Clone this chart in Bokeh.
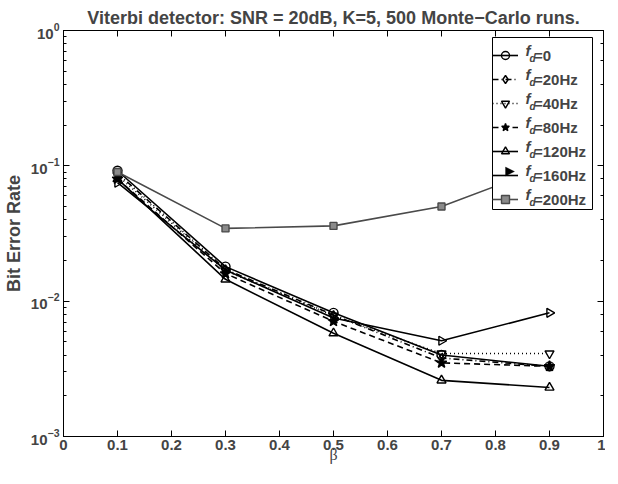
from bokeh.plotting import figure
from bokeh.models import (LogAxis, LinearAxis, Legend, LegendItem, Label, FixedTicker,
                          LogTicker, CustomJSTickFormatter, PolyAnnotation, BoxAnnotation)
from bokeh.embed import file_html
from bokeh.resources import INLINE

# ---- data ----
beta = [0.1, 0.3, 0.5, 0.7, 0.9]
ber_0 = [0.092, 0.018, 0.0082, 0.0040, 0.0033]
ber_20 = [0.088, 0.0172, 0.0079, 0.0038, 0.0033]
ber_40 = [0.085, 0.0168, 0.0078, 0.0041, 0.0041]
ber_80 = [0.080, 0.0160, 0.0071, 0.0035, 0.0033]
ber_120 = [0.080, 0.0145, 0.0058, 0.0026, 0.0023]
ber_160 = [0.075, 0.0170, 0.0075, 0.0051, 0.0082]
ber_200 = [0.090, 0.0345, 0.036, 0.050, 0.10]
legend_values = ["=0", "=20Hz", "=40Hz", "=80Hz", "=120Hz", "=160Hz", "=200Hz"]
x_ticks = [0, 0.1, 0.2, 0.3, 0.4, 0.5, 0.6, 0.7, 0.8, 0.9, 1]
x_tick_labels = ["0", "0.1", "0.2", "0.3", "0.4", "0.5", "0.6", "0.7", "0.8", "0.9", "1"]

FONT = "Liberation Sans"
FW, FH = 540, 406          # frame size in px
LEG_W, LEG_H = 100, 172    # legend box size
LEG_L = FW - 11 - LEG_W    # legend left (frame px)
LEG_B = FH - 7 - LEG_H     # legend bottom (frame px)
PAD, GW, STANDOFF = 4, 26, 16


def fx(px):  # frame px -> data x
    return px / FW


def fy(py):  # frame px (from bottom) -> data y (log)
    return 10 ** (-3 + 3 * py / FH)


p = figure(frame_width=FW, frame_height=FH, x_range=(0, 1), y_range=(1e-3, 1),
           y_axis_type="log", output_backend="svg", toolbar_location=None,
           min_border_left=56, min_border_right=2, min_border_top=30, min_border_bottom=20,
           title="Viterbi detector: SNR = 20dB, K=5, 500 Monte\u2212Carlo runs.")
p.title.text_font = FONT
p.title.text_font_style = "bold"
p.title.text_font_size = "18px"
p.title.align = "center"
p.title.standoff = 5
p.title.offset = 8
p.xgrid.visible = False
p.ygrid.visible = False
p.outline_line_color = "black"
p.outline_line_width = 1
p.background_fill_color = "white"
p.border_fill_color = "white"

xa = p.xaxis[0]
xa.ticker = FixedTicker(ticks=x_ticks)
xa.major_label_overrides = {t: l for t, l in zip(x_ticks, x_tick_labels)}
xa.axis_label = "\u03b2"
xa.axis_label_text_font = "Liberation Serif"
xa.axis_label_text_font_style = "normal"
xa.axis_label_text_font_size = "16px"
xa.axis_label_standoff = -7
ya = p.yaxis[0]
ya.axis_label = "Bit Error Rate"
ya.axis_label_text_font = FONT
ya.axis_label_text_font_style = "bold"
ya.axis_label_text_font_size = "18px"
ya.axis_label_standoff = 4

for ax in (xa, ya):
    ax.major_label_text_font = FONT
    ax.major_label_text_font_style = "bold"
    ax.major_label_text_font_size = "15px"
    ax.major_tick_in = 6
    ax.major_tick_out = 0
    ax.minor_tick_in = 3
    ax.minor_tick_out = 0
    ax.axis_line_color = "black"
xa.major_label_standoff = 3
ya.major_label_standoff = 4
xa.minor_tick_line_color = None

top = LinearAxis(ticker=FixedTicker(ticks=x_ticks), formatter=CustomJSTickFormatter(code="return ''"),
                 major_tick_in=6, major_tick_out=0, minor_tick_line_color=None,
                 major_label_standoff=0, axis_line_color="black")
right = LogAxis(ticker=LogTicker(), formatter=CustomJSTickFormatter(code="return ''"),
                major_tick_in=6, major_tick_out=0, minor_tick_in=3, minor_tick_out=0,
                major_label_standoff=0, axis_line_color="black")
p.add_layout(top, "above")
p.add_layout(right, "right")

styles = [
    (ber_0, "solid", "circle", "black", None),
    (ber_20, "dashdot", "diamond", "black", None),
    (ber_40, "dotted", "inverted_triangle", "black", None),
    (ber_80, "dashed", "star", "black", "black"),
    (ber_120, "solid", "triangle", "black", None),
    (ber_160, "solid", "triangle", "black", None),
    (ber_200, "solid", "square", "#4a4a4a", "#8a8a8a"),
]
dash_map = {"solid": "solid", "dashdot": "6 3 1 3", "dotted": "1 3", "dashed": "6 4"}

items = []
for i, (vals, dash, marker, col, fill) in enumerate(styles):
    lr = p.line(beta, vals, line_color=col, line_width=1.6, line_dash=dash_map[dash])
    kw = {}
    if i == 5:
        kw["angle"] = -1.5708
    size = 9 if marker != "star" else 11
    if marker == "square":
        size = 7
    mr = p.scatter(beta, vals, marker=marker, size=size, line_color=col, line_width=1.4,
                   fill_color=fill, **kw)
    rends = [lr] if i == 5 else [lr, mr]
    items.append(LegendItem(label=legend_values[i], renderers=rends))

# legend box (white, opaque) drawn first, then the f_d texts, then the legend entries
p.add_layout(BoxAnnotation(left=fx(LEG_L), right=fx(LEG_L + LEG_W),
                           bottom=fy(LEG_B), top=fy(LEG_B + LEG_H),
                           fill_color="white", fill_alpha=1,
                           line_color="black", line_width=1, line_alpha=1))

for i in range(7):
    yc = FH - 7 - PAD - 10 - 24 * i
    p.add_layout(Label(x=fx(LEG_L + 33), y=fy(yc + 1), text="f",
                       text_font=FONT, text_font_style="bold italic", text_font_size="15px",
                       text_baseline="middle"))
    p.add_layout(Label(x=fx(LEG_L + 37), y=fy(yc - 7), text="d",
                       text_font=FONT, text_font_style="bold italic", text_font_size="10px",
                       text_baseline="middle"))

# right-pointing triangle for the 160Hz legend entry
cx, cy = LEG_L + PAD + GW / 2, FH - 7 - PAD - 10 - 24 * 5
p.add_layout(PolyAnnotation(xs=[fx(cx - 4), fx(cx - 4), fx(cx + 5)],
                            ys=[fy(cy - 4.5), fy(cy + 4.5), fy(cy)],
                            fill_color="black", fill_alpha=1, line_color="black",
                            line_width=1))

leg = Legend(items=items, location=(LEG_L, LEG_B), padding=PAD, spacing=4,
             label_height=20, glyph_height=20, glyph_width=GW, label_standoff=STANDOFF,
             label_width=LEG_W - 2 * PAD - GW - STANDOFF, label_text_font=FONT,
             label_text_font_style="bold", label_text_font_size="15px",
             border_line_color=None, background_fill_alpha=0, margin=0)
p.add_layout(leg, "center")

open("out.html", "w").write(file_html(p, INLINE))
